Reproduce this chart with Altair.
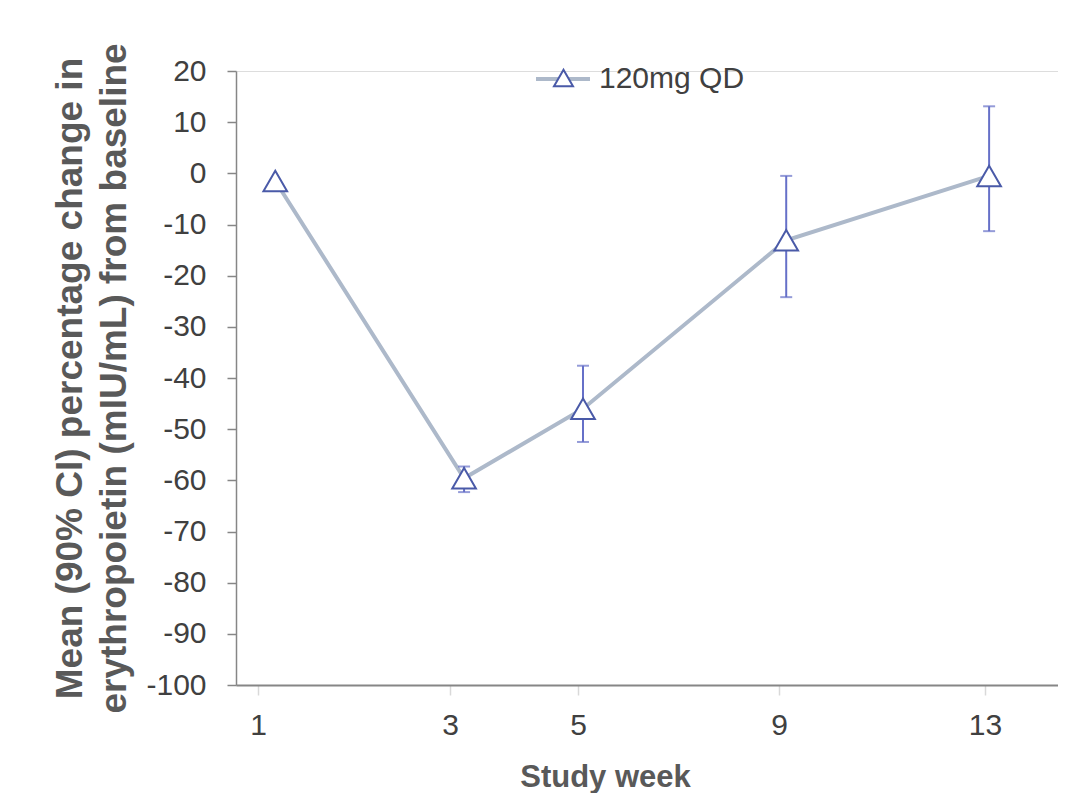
import altair as alt
import pandas as pd

# ---- data ----
series_name = "120mg QD"
week_ticks = [1, 3, 5, 9, 13]                       # x-axis tick labels (study week)
week_plotted = [1.18, 3.22, 5.10, 9.14, 13.08]      # where the points sit on the week axis
mean_change = [-1.5, -59.6, -46.0, -13.1, -0.5]     # mean % change from baseline
ci_lower = [-1.5, -62.3, -52.5, -24.2, -11.3]       # lower 90% CI
ci_upper = [-1.5, -57.3, -37.6, -0.5, 13.1]         # upper 90% CI
y_ticks = list(range(-100, 30, 10))

df = pd.DataFrame({
    "week": week_plotted,
    "mean": mean_change,
    "lo": ci_lower,
    "hi": ci_upper,
    "series": [series_name] * len(week_plotted),
    "series_pt": [series_name] * len(week_plotted),
})

FONT = "Liberation Sans"
LINE_COL = "#adb9ca"
MARK_COL = "#4a5aa8"
ERR_COL = "#6670c8"

# piecewise linear scale reproducing the uneven spacing of the week ticks
xscale = alt.Scale(domain=[0.77, 1, 3, 5, 9, 13, 14.42],
                   range=[0, 22, 214, 342, 543, 749, 822],
                   nice=False, zero=False)
yscale = alt.Scale(domain=[-100, 20], nice=False, zero=False)

xaxis = alt.Axis(values=week_ticks, title="Study week", grid=False,
                 domainColor="#868686", domainWidth=2,
                 tickColor="#d9d9d9", tickWidth=1.5, tickSize=10,
                 labelFont=FONT, labelFontSize=30, labelColor="#404040",
                 labelPadding=39, labelBaseline="alphabetic",
                 titleFont=FONT, titleFontSize=31, titleFontWeight="bold",
                 titleColor="#595959", titleX=369, titleY=101,
                 titleBaseline="alphabetic")
ytitle = ["Mean (90% CI) percentage change in",
          "erythropoietin (mIU/mL) from baseline"]
yaxis = alt.Axis(values=y_ticks, title=ytitle, grid=False,
                 labelExpr="toString(datum.value)",
                 domainColor="#868686", domainWidth=1.5,
                 tickColor="#868686", tickWidth=1.5, tickSize=9,
                 labelFont=FONT, labelFontSize=30, labelColor="#404040",
                 labelPadding=21,
                 titleFont=FONT, titleFontSize=37, titleFontWeight="bold",
                 titleColor="#595959", titlePadding=12, titleLineHeight=44)

X = alt.X("week:Q", scale=xscale, axis=xaxis)

line = alt.Chart(df).mark_line(strokeWidth=4).encode(
    x=X,
    y=alt.Y("mean:Q", scale=yscale, axis=yaxis),
    color=alt.Color("series:N", scale=alt.Scale(range=[LINE_COL]),
                    legend=alt.Legend(orient="none", legendX=298, legendY=-21,
                                      title=None, padding=0,
                                      symbolType="M-1,0H1", symbolSize=2916,
                                      symbolStrokeWidth=4,
                                      labelFont=FONT, labelFontSize=30,
                                      labelColor="#404040", labelOffset=7)),
)

err = alt.Chart(df).mark_rule(color=ERR_COL, strokeWidth=2).encode(
    x=X,
    y=alt.Y("lo:Q", scale=yscale, axis=yaxis),
    y2="hi:Q",
)
cap_lo = alt.Chart(df).mark_tick(color=ERR_COL, orient="horizontal",
                                 size=12, thickness=2).encode(
    x=X, y=alt.Y("lo:Q", scale=yscale, axis=yaxis))
cap_hi = alt.Chart(df).mark_tick(color=ERR_COL, orient="horizontal",
                                 size=12, thickness=2).encode(
    x=X, y=alt.Y("hi:Q", scale=yscale, axis=yaxis))

pts = alt.Chart(df).mark_point(shape="triangle-up", filled=False, fill="white",
                               fillOpacity=1, strokeWidth=2, size=560,
                               opacity=1).encode(
    x=X,
    y=alt.Y("mean:Q", scale=yscale, axis=yaxis),
    stroke=alt.Stroke("series_pt:N", scale=alt.Scale(range=[MARK_COL]),
                      legend=alt.Legend(orient="none", legendX=312.5, legendY=-8,
                                        title=None, padding=0,
                                        symbolType="triangle-up",
                                        symbolSize=361, symbolStrokeWidth=2,
                                        symbolFillColor="white",
                                        symbolStrokeColor=MARK_COL,
                                        labelExpr="''",
                                        labelFont=FONT, labelFontSize=30)),
)

chart = alt.layer(line, err, cap_lo, cap_hi, pts).properties(
    width=822, height=614,
    autosize=alt.AutoSizeParams(type="none"),
    padding={"left": 228, "top": 63, "right": 0, "bottom": 108},
).configure_view(stroke=None).configure(background="white")

chart.save("out.html", embed_options={"renderer": "svg", "actions": False})
